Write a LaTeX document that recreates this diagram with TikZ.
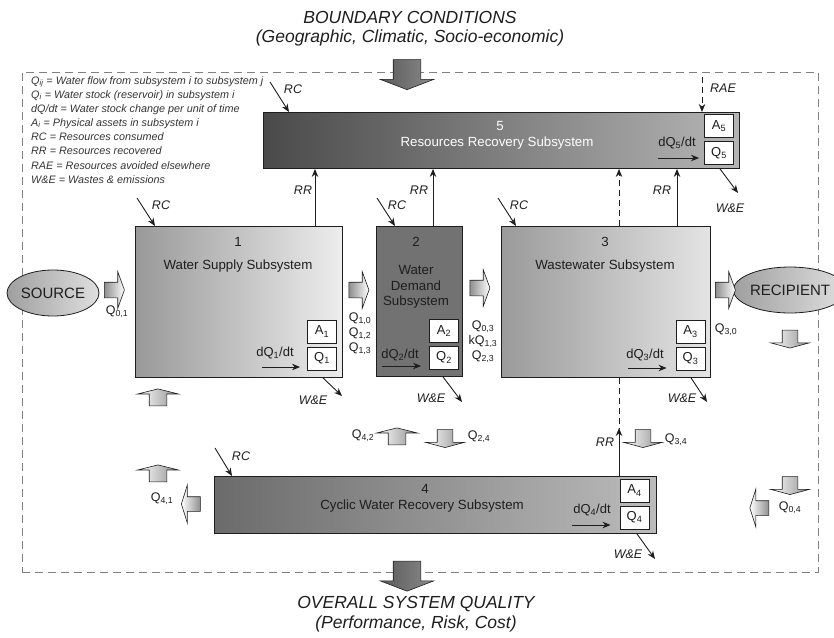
\documentclass[tikz,border=0pt]{standalone}
\usepackage{fontspec}
\setmainfont{Liberation Sans}
\usetikzlibrary{arrows.meta,shapes.arrows,shapes.geometric,calc}

\definecolor{ink}{HTML}{1E1E1E}
\definecolor{legendink}{HTML}{333333}
\definecolor{framegray}{HTML}{808080}
\definecolor{boxAleft}{HTML}{999999}
\definecolor{boxAright}{HTML}{EDEDED}
\definecolor{boxB}{HTML}{727272}
\definecolor{boxCleft}{HTML}{9A9A9A}
\definecolor{boxCright}{HTML}{E4E4E4}
\definecolor{boxDleft}{HTML}{6B6B6B}
\definecolor{boxDright}{HTML}{BBBBBB}
\definecolor{boxEleft}{HTML}{4A4A4A}
\definecolor{boxEright}{HTML}{B5B5B5}
\definecolor{bigleft}{HTML}{5A5A5A}
\definecolor{bigright}{HTML}{8A8A8A}
\definecolor{fatgray}{HTML}{8E8E8E}

\begin{document}
\begin{tikzpicture}[x=1pt,y=-1pt,
  sub/.style={draw=ink, line width=0.9pt, inner sep=0pt, anchor=north west},
  cell/.style={draw=ink, fill=white, line width=0.9pt, minimum width=29pt,
    minimum height=23pt, inner sep=0pt, font=\fontsize{13}{15}\selectfont, text=ink},
  boxtext/.style={font=\fontsize{13.3}{15.5}\selectfont, inner sep=0pt, text=ink, align=center},
  lighttext/.style={boxtext, text=white},
  title/.style={font=\fontsize{17.5}{20}\selectfont\itshape, inner sep=0pt, text=ink},
  qlab/.style={font=\fontsize{12.5}{14}\selectfont, inner sep=0pt, text=ink},
  tag/.style={font=\fontsize{12.5}{14}\selectfont\itshape, inner sep=0pt, text=ink},
  flow/.style={-{Stealth[length=8pt,width=6.5pt]}, line width=0.9pt, draw=ink},
  dashflow/.style={flow, dash pattern=on 6pt off 4pt},
  fatbase/.style={single arrow, draw=ink, line width=0.6pt, outer sep=0pt},
  % horizontal arrows: shaft half-width from the vertical inner sep
  fatright/.style={fatbase, inner xsep=0pt, inner ysep=7.5pt, minimum width=36pt, minimum height=20pt,
    single arrow head extend=10.5pt, single arrow tip angle=140,
    left color=fatgray, right color=white},
  fatleft/.style={fatbase, inner xsep=0pt, inner ysep=7pt, minimum width=38pt, minimum height=19pt,
    single arrow head extend=12pt, single arrow tip angle=145,
    shape border rotate=180, left color=white, right color=fatgray},
  % vertical arrows: shaft half-width from the horizontal inner sep
  fatup/.style={fatbase, inner ysep=0pt, inner xsep=8.5pt, minimum width=40pt, minimum height=17pt,
    single arrow head extend=11.5pt, single arrow tip angle=152,
    shape border rotate=90, left color=white, right color=fatgray},
  fatdown/.style={fatbase, inner ysep=0pt, inner xsep=7.5pt, minimum width=38pt, minimum height=18pt,
    single arrow head extend=11.5pt, single arrow tip angle=150,
    shape border rotate=270, left color=white, right color=fatgray},
  bigarrow/.style={fatbase, inner ysep=0pt, inner xsep=13.5pt, minimum width=53pt, minimum height=30pt,
    single arrow head extend=13pt, single arrow tip angle=138,
    shape border rotate=270, left color=bigleft, right color=bigright},
]
\useasboundingbox (0,0) rectangle (834,637);

% system boundary
\node[draw=framegray, line width=0.9pt, dash pattern=on 8pt off 5pt,
  minimum width=796pt, minimum height=500pt, anchor=north west, inner sep=0pt]
  (frame) at (22,72) {};

% titles
\node[title] (bc1) at (410,17) {BOUNDARY CONDITIONS};
\node[title] (bc2) at (410,38) {(Geographic, Climatic, Socio-economic)};
\node[title] (osq1) at (416,604) {OVERALL SYSTEM QUALITY};
\node[title] (osq2) at (416,624) {(Performance, Risk, Cost)};

\node[bigarrow] (bigin) at (407,72) {};
\node[bigarrow] (bigout) at (407,573.5) {};

% legend
\node[anchor=north west, align=left, inner sep=0pt, text=legendink,
  font=\fontsize{10.8}{14}\selectfont\itshape] (legend) at (31,76)
  {Q\textsubscript{ij} = Water flow from subsystem i to subsystem j\\
   Q\textsubscript{i} = Water stock (reservoir) in subsystem i\\
   dQ/dt = Water stock change per unit of time\\
   A\textsubscript{i} = Physical assets in subsystem i\\
   RC = Resources consumed\\
   RR = Resources recovered\\[1.5pt]
   RAE = Resources avoided elsewhere\\
   W\&E = Wastes \& emissions};

% subsystems
\node[sub, minimum width=476pt, minimum height=56pt, left color=boxEleft, right color=boxEright] (b5) at (263,112) {};
\node[sub, minimum width=207pt, minimum height=151pt, left color=boxAleft, right color=boxAright] (b1) at (135,226) {};
\node[sub, minimum width=86pt, minimum height=150pt, fill=boxB] (b2) at (376,226) {};
\node[sub, minimum width=209pt, minimum height=151pt, left color=boxCleft, right color=boxCright] (b3) at (501,226) {};
\node[sub, minimum width=442pt, minimum height=57pt, left color=boxDleft, right color=boxDright] (b4) at (214,476) {};

\node[lighttext] (n5) at (500,126) {5};
\node[lighttext] (t5) at (497,143) {Resources Recovery Subsystem};
\node[boxtext] (n1) at (238,242) {1};
\node[boxtext] (t1) at (238,266) {Water Supply Subsystem};
\node[boxtext] (n2) at (416,242) {2};
\node[boxtext] (t2) at (416,287) {Water\\Demand\\Subsystem};
\node[boxtext] (n3) at (605,242) {3};
\node[boxtext] (t3) at (605,266) {Wastewater Subsystem};
\node[boxtext] (n4) at (425,489) {4};
\node[boxtext] (t4) at (422,506) {Cyclic Water Recovery Subsystem};

% assets and stocks
\node[cell] (a5) at (719,126) {A\textsubscript{5}};
\node[cell] (q5) at (719,153) {Q\textsubscript{5}};
\node[cell] (a1) at (322,331.5) {A\textsubscript{1}};
\node[cell] (q1) at (322,358.5) {Q\textsubscript{1}};
\node[cell] (a2) at (444,331) {A\textsubscript{2}};
\node[cell] (q2) at (444,357.5) {Q\textsubscript{2}};
\node[cell] (a3) at (690.5,331.5) {A\textsubscript{3}};
\node[cell] (q3) at (690.5,358.5) {Q\textsubscript{3}};
\node[cell] (a4) at (634.5,490.5) {A\textsubscript{4}};
\node[cell] (q4) at (634.5,517.5) {Q\textsubscript{4}};

% stock change arrows
\node[qlab, font=\fontsize{13}{15}\selectfont] (d5) at (677,143) {dQ\textsubscript{5}/dt};
\node[qlab, font=\fontsize{13}{15}\selectfont] (d1) at (275,353) {dQ\textsubscript{1}/dt};
\node[qlab, font=\fontsize{13}{15}\selectfont] (d2) at (400,355) {dQ\textsubscript{2}/dt};
\node[qlab, font=\fontsize{13}{15}\selectfont] (d3) at (645,355) {dQ\textsubscript{3}/dt};
\node[qlab, font=\fontsize{13}{15}\selectfont] (d4) at (592,510) {dQ\textsubscript{4}/dt};
\coordinate (dq5) at (658,158);
\coordinate (dq1) at (262,367);
\coordinate (dq2) at (382,366);
\coordinate (dq3) at (628,368);
\coordinate (dq4) at (572,525);
\draw[flow] (dq5) -- ($(q5.west |- dq5)+(-5,0)$);
\draw[flow] (dq1) -- ($(q1.west |- dq1)+(-7,0)$);
\draw[flow] (dq2) -- ($(q2.west |- dq2)+(-8,0)$);
\draw[flow] (dq3) -- ($(q3.west |- dq3)+(-9,0)$);
\draw[flow] (dq4) -- ($(q4.west |- dq4)+(-9,0)$);

% source and recipient
\node[ellipse, draw=ink, line width=0.8pt, minimum width=92pt, minimum height=46pt,
  inner sep=0pt, left color=gray!75, right color=gray!25,
  font=\fontsize{15}{17}\selectfont, text=ink] (source) at (53,293) {SOURCE};
\node[ellipse, draw=ink, line width=0.8pt, minimum width=90pt, minimum height=46pt,
  inner sep=0pt, left color=gray!75, right color=gray!25,
  font=\fontsize{15}{17}\selectfont, text=ink] (recipient) at (790,290) {RECIPIENT};

% water flows
\node[fatright] (f01) at (113,290) {};
\node[fatright] (f12) at (357.5,290) {};
\node[fatright] (f23) at (478.5,288) {};
\node[fatright] (f30) at (724,290) {};
\node[fatdown] (frd1) at (790,338) {};
\node[fatup] (fu1) at (158,398.5) {};
\node[fatup] (fu2) at (158,474.5) {};
\node[fatleft] (f41) at (192,504) {};
\node[fatup] (f42) at (397,437.5) {};
\node[fatdown] (f24) at (445,437.5) {};
\node[fatdown] (f34) at (643,437.5) {};
\node[fatdown] (frd2) at (790,484.5) {};
\node[fatleft] (f04) at (760.5,508) {};

\node[qlab] (q01) at (117,312) {Q\textsubscript{0,1}};
\node[qlab] (q10) at (360,319) {Q\textsubscript{1,0}};
\node[qlab] (q12) at (360,334) {Q\textsubscript{1,2}};
\node[qlab] (q13) at (360,349) {Q\textsubscript{1,3}};
\node[qlab] (q03) at (483,327) {Q\textsubscript{0,3}};
\node[qlab] (kq13) at (483,342) {kQ\textsubscript{1,3}};
\node[qlab] (q23) at (483,357) {Q\textsubscript{2,3}};
\node[qlab] (q30) at (726,330) {Q\textsubscript{3,0}};
\node[qlab] (q42) at (363,436) {Q\textsubscript{4,2}};
\node[qlab] (q24) at (479,437) {Q\textsubscript{2,4}};
\node[qlab] (q34) at (676,440) {Q\textsubscript{3,4}};
\node[qlab] (q41) at (162,499) {Q\textsubscript{4,1}};
\node[qlab] (q04) at (790,508) {Q\textsubscript{0,4}};

% resources consumed
\coordinate (rc5) at (270,82);
\coordinate (rc1) at (137,198);
\coordinate (rc2) at (377,198);
\coordinate (rc3) at (498,198);
\coordinate (rc4) at (215,448);
\draw[flow] (rc5) -- ($(b5.north west)+(26,0)$);
\draw[flow] (rc1) -- ($(b1.north west)+(20,0)$);
\draw[flow] (rc2) -- ($(b2.north west)+(19,0)$);
\draw[flow] (rc3) -- ($(b3.north west)+(15,0)$);
\draw[flow] (rc4) -- ($(b4.north west)+(18,0)$);
\node[tag] (rcl5) at (293,89) {RC};
\node[tag] (rcl1) at (161,205) {RC};
\node[tag] (rcl2) at (397,205) {RC};
\node[tag] (rcl3) at (519,205) {RC};
\node[tag] (rcl4) at (241,456) {RC};

% wastes and emissions
\coordinate (we1) at (342,396);
\coordinate (we2) at (462,402);
\coordinate (we3) at (707,402);
\coordinate (we4) at (655,559);
\coordinate (we5) at (738,193);
\draw[flow] ($(b1.south west)+(188,0)$) -- (we1);
\draw[flow] ($(b2.south west)+(67,0)$) -- (we2);
\draw[flow] ($(b3.south west)+(190,0)$) -- (we3);
\draw[flow] ($(b4.south west)+(423,0)$) -- (we4);
\draw[flow] ($(b5.south west)+(457,0)$) -- (we5);
\node[tag] (wel1) at (313,400) {W\&E};
\node[tag] (wel2) at (431,398) {W\&E};
\node[tag] (wel3) at (682,398) {W\&E};
\node[tag] (wel4) at (628,554) {W\&E};
\node[tag] (wel5) at (730,208) {W\&E};

% resources recovered
\coordinate (rr1) at (315,190);
\coordinate (rr2) at (433,190);
\coordinate (rr3) at (677,190);
\coordinate (rr4) at (619,190);
\coordinate (rr4top) at (619,428);
\draw[flow] (b1.north -| rr1) -- (b5.south -| rr1);
\draw[flow] (b2.north -| rr2) -- (b5.south -| rr2);
\draw[flow] (b3.north -| rr3) -- (b5.south -| rr3);
\draw[dashflow] (b3.north -| rr4) -- (b5.south -| rr4);
\draw[ink, line width=0.9pt, dash pattern=on 6pt off 4pt] (b3.south -| rr4) -- (rr4top);
\draw[flow] (b4.north -| rr4) -- (rr4top);
\node[tag] (rrl1) at (303,190) {RR};
\node[tag] (rrl2) at (419,190) {RR};
\node[tag] (rrl3) at (662,190) {RR};
\node[tag] (rrl4) at (605,442) {RR};

% resources avoided elsewhere
\coordinate (rae) at (702,77);
\draw[dashflow] (rae) -- (b5.north -| rae);
\node[tag] (raelab) at (723,88) {RAE};
\end{tikzpicture}
\end{document}
